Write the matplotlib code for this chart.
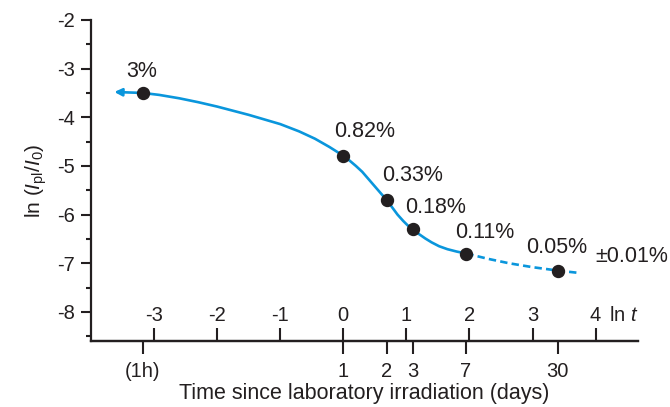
import numpy as np
import matplotlib
matplotlib.use("Agg")
import matplotlib.pyplot as plt
from matplotlib.transforms import blended_transform_factory

plt.rcParams['font.family'] = ['Liberation Sans', 'DejaVu Sans']
plt.rcParams['mathtext.fontset'] = 'custom'
plt.rcParams['mathtext.rm'] = 'Liberation Sans'
plt.rcParams['mathtext.it'] = 'Liberation Sans:italic'

# measured points: time since irradiation (days) and ln(Ipl/I0)
days = [1 / 24, 1, 2, 3, 7, 30]
day_labels = ['(1h)', '1', '2', '3', '7', '30']
ln_ratio = [-3.50, -4.79, -5.70, -6.29, -6.80, -7.15]
pct_labels = ['3%', '0.82%', '0.33%', '0.18%', '0.11%', '0.05%']

# fitted curve (ln t, ln ratio)
solid_x = [-3.63, -3.18, -2.92, -2.60, -2.30, -2.00, -1.50, -1.00, -0.70, -0.45,
           -0.22, 0.00, 0.10, 0.20, 0.30, 0.40, 0.52, 0.60, 0.69, 0.78, 0.86, 0.95,
           1.02, 1.10, 1.20, 1.30, 1.40, 1.52, 1.65, 1.80, 1.95]
solid_y = [-3.48, -3.50, -3.54, -3.61, -3.69, -3.78, -3.95, -4.14, -4.29, -4.44,
           -4.61, -4.79, -4.89, -5.00, -5.12, -5.27, -5.45, -5.57, -5.70, -5.86, -6.00,
           -6.13, -6.22, -6.29, -6.40, -6.49, -6.57, -6.65, -6.71, -6.76, -6.80]
dash_x = [1.95, 2.30, 2.63, 3.00, 3.40, 3.75]
dash_y = [-6.80, -6.91, -7.00, -7.08, -7.15, -7.20]

lnt_ticks = [-3, -2, -1, 0, 1, 2, 3, 4]
y_ticks = [-2, -3, -4, -5, -6, -7, -8]

blue = '#0a96dc'
ink = '#231f20'

fig = plt.figure(figsize=(6.7, 4.07), dpi=100)
ax = fig.add_axes([0.1358, 0.163, 0.952 - 0.1358, 0.951 - 0.163])

ax.plot(solid_x[1:], solid_y[1:], color=blue, lw=1.9, solid_capstyle='butt',
        solid_joinstyle='round', zorder=2)
ax.annotate('', xy=(solid_x[0], solid_y[0]), xytext=(solid_x[1], solid_y[1]),
            arrowprops=dict(arrowstyle='-|>', color=blue, lw=1.9,
                            mutation_scale=11, shrinkA=0, shrinkB=0), zorder=2)
ax.plot(dash_x, dash_y, color=blue, lw=1.9, dashes=(2.8, 1.6), zorder=2)

lnt = np.log(days)
ax.plot(lnt, ln_ratio, 'o', color=ink, ms=8.6, zorder=3)

# percentage labels
offsets = [(-0.02, 0.45), (-0.14, 0.49), (-0.08, 0.50), (-0.12, 0.43), (-0.18, 0.43), (-0.51, 0.47)]
for i, (x, y) in enumerate(zip(lnt, ln_ratio)):
    dx, dy = offsets[i]
    ha = 'center' if i == 0 else 'left'
    ax.text(x + dx, y + dy, pct_labels[i], ha=ha, va='center',
            fontsize=15.5, color=ink)
ax.text(3.99, -6.86, '\u00b10.01%', ha='left', va='center', fontsize=15.5, color=ink)

ax.set_xlim(-4.0, 4.67)
ax.set_ylim(-8.59, -2)

for s in ['top', 'right']:
    ax.spines[s].set_visible(False)
for s in ['left', 'bottom']:
    ax.spines[s].set_linewidth(1.6)
    ax.spines[s].set_color(ink)

ax.set_yticks(y_ticks)
ax.set_yticks(np.arange(-8.5, -2, 1.0), minor=True)
ax.set_yticklabels([str(v) for v in y_ticks])
ax.tick_params(axis='y', which='major', direction='out', length=7.5, width=1.5,
               labelsize=14.5, colors=ink, pad=4)
ax.tick_params(axis='y', which='minor', direction='out', length=3.5, width=1.5, colors=ink)

ax.set_xticks(lnt_ticks)
ax.set_xticklabels([str(v) for v in lnt_ticks])
ax.tick_params(axis='x', direction='in', length=9.5, width=1.5, pad=-25,
               labelsize=14.5, colors=ink)

tr = blended_transform_factory(ax.transData, ax.transAxes)
ax.text(4.22, 0.08, r'ln $t$', transform=tr, ha='left', va='center',
        fontsize=14.5, color=ink)

sec = ax.secondary_xaxis('bottom')
sec.set_xticks(lnt)
sec.set_xticklabels(day_labels)
sec.tick_params(direction='out', length=9.5, width=1.5, pad=6,
                labelsize=14.5, colors=ink)
sec.spines['bottom'].set_linewidth(1.6)
sec.spines['bottom'].set_color(ink)
sec.set_xlabel('Time since laboratory irradiation (days)', fontsize=15.5, color=ink, labelpad=1)

ax.set_ylabel(r'ln ($I_{\mathrm{pl}}/I_0$)', fontsize=15, color=ink, labelpad=6)

fig.savefig('out.png', dpi=100)
